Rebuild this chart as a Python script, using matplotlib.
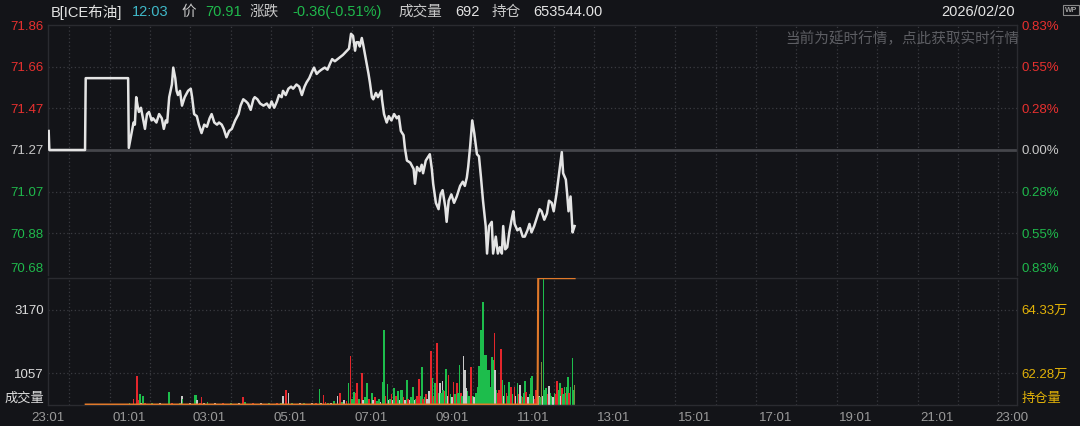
import matplotlib.pyplot as plt
import numpy as np

plt.rcParams['font.family'] = ['Liberation Sans', 'Noto Sans CJK SC']

W, H = 1080, 426
BG = '#131418'
GRID = '#3a3b40'
EDGE = '#2a2b30'
RED = '#e8302f'
GREEN = '#1fb94c'
WHITE = '#e4e4e4'
GOLD = '#e2b208'
GRAYTXT = '#c8c8c8'

# ---- data ----
prev_close = 71.27
price_labels = ['71.86', '71.66', '71.47', '71.27', '71.07', '70.88', '70.68']
pct_labels = ['0.83%', '0.55%', '0.28%', '0.00%', '0.28%', '0.55%', '0.83%']
time_labels = ['23:01', '01:01', '03:01', '05:01', '07:01', '09:01', '11:01',
               '13:01', '15:01', '17:01', '19:01', '21:01', '23:00']
vol_ticks = [1057, 3170]
vol_top = 4227
oi_ticks = [62.28, 64.33]
oi_lo, oi_hi = 61.255, 65.355

# minutes after 23:01
price_min = [1, 2, 55, 56, 119, 120, 127, 129, 131, 133, 135, 138, 141, 144, 147,
             150, 154, 156, 161, 165, 169, 172, 175, 177, 180, 184, 186, 189, 191,
             193, 196, 199, 203, 208, 212, 214, 217, 221, 224, 228, 232, 236, 240,
             243, 247, 251, 254, 258, 261, 265, 269, 273, 278, 283, 286, 290, 294,
             297, 301, 305, 307, 311, 315, 320, 325, 329, 332, 336, 340, 343, 347,
             349, 353, 357, 361, 364, 369, 373, 377, 381, 384, 388, 392, 395, 399,
             402, 406, 411, 415, 419, 422, 426, 430, 434, 438, 444, 447, 450, 453,
             456, 458, 461, 463, 466, 468, 472, 476, 478, 481, 483, 487, 490, 495,
             496, 499, 503, 506, 510, 514, 518, 521, 524, 528, 530, 533, 538, 543,
             545, 548, 552, 555, 557, 561, 565, 567, 570, 572, 576, 580, 583, 586,
             590, 592, 595, 599, 603, 607, 612, 616, 619, 622, 624, 627, 630, 633,
             637, 640, 643, 646, 650, 652, 655, 659, 661, 665, 668, 671, 674, 676,
             679, 682, 685, 689, 691, 693, 697, 701, 705, 708, 712, 715, 718, 722,
             726, 730, 733, 737, 741, 744, 748, 751, 755, 759, 763, 765, 769, 771,
             773, 776, 779, 782]
price_val = [71.36, 71.27, 71.27, 71.61, 71.61, 71.28, 71.40, 71.39, 71.52, 71.48, 71.45, 71.47, 71.42, 71.37, 71.44,
             71.45, 71.41, 71.42, 71.40, 71.44, 71.42, 71.37, 71.41, 71.40, 71.52, 71.58, 71.66, 71.61, 71.55,
             71.53, 71.55, 71.48, 71.52, 71.55, 71.56, 71.52, 71.44, 71.43, 71.39, 71.35, 71.39, 71.38, 71.42,
             71.44, 71.40, 71.39, 71.40, 71.39, 71.37, 71.33, 71.36, 71.37, 71.41, 71.44, 71.48, 71.51, 71.50,
             71.49, 71.46, 71.51, 71.52, 71.51, 71.49, 71.48, 71.49, 71.47, 71.50, 71.47, 71.50, 71.53, 71.52,
             71.55, 71.53, 71.56, 71.57, 71.56, 71.58, 71.57, 71.53, 71.57, 71.59, 71.61, 71.64, 71.66, 71.63,
             71.64, 71.65, 71.66, 71.65, 71.68, 71.70, 71.69, 71.70, 71.71, 71.72, 71.74, 71.75, 71.82, 71.81,
             71.74, 71.78, 71.78, 71.76, 71.80, 71.77, 71.70, 71.63, 71.59, 71.52, 71.51, 71.54, 71.52, 71.55,
             71.51, 71.44, 71.40, 71.43, 71.41, 71.44, 71.42, 71.43, 71.36, 71.34, 71.28, 71.22, 71.21, 71.18,
             71.11, 71.19, 71.17, 71.20, 71.16, 71.22, 71.24, 71.25, 71.18, 71.11, 71.02, 70.99, 71.06, 71.08,
             71.00, 70.93, 71.03, 71.06, 71.02, 71.05, 71.10, 71.12, 71.10, 71.14, 71.19, 71.29, 71.41, 71.35,
             71.25, 71.24, 71.14, 71.03, 70.91, 70.78, 70.91, 70.93, 70.78, 70.86, 70.78, 70.81, 70.78, 70.91,
             70.80, 70.81, 70.88, 70.95, 70.98, 70.92, 70.89, 70.90, 70.86, 70.86, 70.89, 70.92, 70.88, 70.91,
             70.95, 70.99, 70.98, 70.94, 70.97, 71.03, 71.02, 70.98, 71.06, 71.16, 71.26, 71.16, 71.13, 71.06,
             70.98, 71.05, 70.88, 70.91]

vol_min = [121, 124, 127, 132, 134, 137, 138, 141, 144, 149, 154, 160, 166, 172, 180, 184,
           190, 196, 199, 200, 205, 211, 218, 220, 221, 226, 228, 232, 237, 242, 248, 254,
           260, 266, 272, 278, 284, 290, 293, 298, 304, 310, 316, 322, 328, 334, 340, 346,
           349, 353, 357, 362, 368, 374, 380, 386, 392, 398, 403, 405, 409, 412, 416, 420,
           425, 430, 434, 437, 440, 443, 446, 449, 451, 454, 457, 459, 462, 466, 468, 471,
           474, 477, 481, 483, 486, 489, 492, 494, 497, 499, 501, 504, 506, 508, 510, 512,
           514, 517, 520, 522, 524, 526, 528, 530, 533, 535, 537, 539, 542, 544, 546, 548,
           551, 553, 555, 557, 559, 561, 563, 565, 566, 569, 571, 573, 575, 577, 578, 580,
           582, 584, 586, 587, 589, 591, 593, 595, 598, 600, 602, 604, 607, 609, 611, 613,
           615, 617, 619, 621, 623, 625, 628, 629, 631, 633, 636, 638, 640, 643, 646, 648,
           650, 652, 654, 655, 657, 659, 661, 663, 664, 666, 668, 670, 673, 675, 677, 678,
           681, 683, 685, 687, 688, 690, 693, 694, 697, 699, 701, 703, 705, 707, 708, 710,
           713, 715, 717, 719, 721, 723, 725, 727, 729, 731, 733, 735, 736, 738, 740, 742,
           744, 746, 748, 750, 752, 754, 756, 758, 760, 762, 763, 765, 767, 769, 771, 772,
           774, 776, 779, 780, 782]
vol_val = [70, 40, 200, 970, 160, 375, 60, 300, 50, 40, 60, 40, 50, 40, 420, 50,
           40, 50, 290, 200, 40, 50, 333, 333, 150, 60, 265, 50, 100, 40, 50, 40,
           60, 40, 50, 40, 50, 265, 100, 40, 50, 40, 60, 40, 50, 40, 50, 60,
           300, 500, 390, 50, 40, 60, 50, 40, 60, 50, 530, 60, 333, 100, 60, 80,
           120, 310, 390, 100, 150, 130, 720, 1630, 200, 420, 400, 720, 200, 1055, 150, 250,
           740, 200, 390, 150, 280, 120, 200, 100, 750, 2500, 300, 700, 150, 200, 365, 150,
           555, 300, 465, 150, 500, 500, 250, 150, 820, 200, 150, 250, 590, 150, 200, 300,
           865, 300, 1275, 200, 250, 350, 200, 400, 450, 1800, 890, 300, 720, 350, 2055, 400,
           720, 400, 800, 500, 450, 1200, 300, 1000, 350, 250, 775, 350, 740, 400, 1330, 400,
           300, 1630, 1165, 550, 450, 300, 1275, 450, 300, 250, 400, 600, 1300, 2500, 3420, 1665,
           1665, 1165, 800, 1150, 600, 1610, 1500, 2390, 1165, 500, 400, 500, 1865, 830, 300, 650,
           400, 300, 755, 300, 600, 350, 600, 300, 740, 350, 650, 300, 250, 400, 800, 420,
           250, 350, 910, 950, 300, 200, 500, 250, 300, 250, 1445, 300, 4227, 500, 550, 350,
           630, 400, 300, 250, 400, 350, 800, 500, 720, 300, 550, 350, 600, 400, 600, 945,
           400, 600, 1555, 500, 665]
# r = up, g = down, w = flat, d = mixed
vol_dir = list("gwrrrgwgrwgrwggr"
               "wgwgrwggwrrwgrwg"
               "rwgrwrgwrgwrgwrg"
               "wrwgrwgrwrgwrrgw"
               "gwrgwrgrggrrgrwg"
               "grgwrggwggrgwgrw"
               "grgwggrwgrwggwgr"
               "rggrgrwgwrgrgrrg"
               "wgwgrgwrgwrgrggr"
               "gwwwggrrgwgggggg"
               "ggrggggrwgrrrgwg"
               "rggwrgrwgrwgrggr"
               "wgggwrrgwgdwgggr"
               "wggwgrrggwrggrgg"
               "rgggd")

# open interest (万手)
oi_min = [56, 727, 728, 782]
oi_val = [61.27, 61.27, 65.35, 65.35]

dir_color = {'r': '#e3262c', 'g': '#1dbd4c', 'w': '#c9c9c9', 'd': '#7d8a3a'}

# ---- layout ----
def fx(px):
    return px / W

def fy(py):
    return 1 - py / H

fig = plt.figure(figsize=(W / 100, H / 100), dpi=100, facecolor=BG)
ax_p = fig.add_axes([fx(48), fy(275), (1017 - 48) / W, (275 - 25) / H])
ax_v = fig.add_axes([fx(48), fy(405), (1017 - 48) / W, (405 - 278) / H])

lo, hi = prev_close * (1 - 0.0083), prev_close * (1 + 0.0083)
levels = np.linspace(hi, lo, 7)
grid_x = np.arange(31.5, 1439, 60)
dots = (0, (1, 2))

for ax in (ax_p, ax_v):
    ax.set_facecolor(BG)
    ax.set_xlim(0, 1439)
    for s in ax.spines.values():
        s.set_color(EDGE)
        s.set_linewidth(1)
    for gx in grid_x:
        ax.axvline(gx, color=GRID, lw=0.9, ls=dots, zorder=0)
ax_p.spines['bottom'].set_visible(False)

# price panel
ax_p.set_ylim(lo, hi)
for lv in levels[1:-1]:
    if abs(lv - prev_close) > 1e-6:
        ax_p.axhline(lv, color=GRID, lw=0.9, ls=dots, zorder=0)
ax_p.axhline(prev_close, color='#45464b', lw=2, zorder=1)
ax_p.plot(price_min, price_val, color=WHITE, lw=1.8, zorder=3)
ax_p.set_xticks([])
ax_p.set_yticks(levels, price_labels)
ax_p.tick_params(axis='y', length=0, pad=3, labelsize=9.5)
lab_colors = [RED] * 3 + [GRAYTXT] + [GREEN] * 3
for t, c in zip(ax_p.get_yticklabels(), lab_colors):
    t.set_color(c)
ax_p.get_yticklabels()[-1].set_va('bottom')

ax_pr = ax_p.twinx()
ax_pr.set_ylim(lo, hi)
ax_pr.set_yticks(levels, pct_labels)
ax_pr.tick_params(axis='y', length=0, pad=3, labelsize=9.5)
for t, c in zip(ax_pr.get_yticklabels(), lab_colors):
    t.set_color(c)
ax_pr.get_yticklabels()[-1].set_va('bottom')
for s in ax_pr.spines.values():
    s.set_visible(False)

# volume panel
ax_v.set_ylim(0, vol_top)
for v in vol_ticks:
    ax_v.axhline(v, color=GRID, lw=0.9, ls=dots, zorder=0)
ax_v.bar(vol_min, vol_val, width=2.4, color=[dir_color[d] for d in vol_dir],
         linewidth=0, zorder=2)
ax_v.set_yticks([0] + vol_ticks, ['成交量'] + [str(v) for v in vol_ticks])
ax_v.tick_params(axis='y', length=0, pad=3, labelsize=9.5, labelcolor='#dcdcdc')
ax_v.get_yticklabels()[0].set_va('bottom')
tick_pos = [0, 120, 240, 360, 480, 600, 720, 840, 960, 1080, 1200, 1320, 1432]
ax_v.set_xticks(tick_pos, time_labels)
ax_v.tick_params(axis='x', length=0, pad=5, labelsize=9.5, labelcolor='#9a9a9a')

ax_o = ax_v.twinx()
ax_o.set_ylim(oi_lo, oi_hi)
ax_o.plot(oi_min, oi_val, color='#e0792a', lw=1.5, zorder=4)
ax_o.set_yticks([oi_lo] + oi_ticks, ['持仓量'] + ['%.2f万' % v for v in oi_ticks])
ax_o.tick_params(axis='y', length=0, pad=3, labelsize=9.5, labelcolor=GOLD)
ax_o.get_yticklabels()[0].set_va('bottom')
for s in ax_o.spines.values():
    s.set_visible(False)

# header line
header = [('B[ICE布油]', 51, WHITE), ('12:03', 132, '#3fb8c8'), ('价', 181, GRAYTXT),
          ('70.91', 205, GREEN), ('涨跌', 250, GRAYTXT), ('-0.36(-0.51%)', 292, GREEN),
          ('成交量', 398, GRAYTXT), ('692', 455, WHITE), ('持仓', 492, GRAYTXT),
          ('653544.00', 533, WHITE)]
for txt, x, c in header:
    fig.text(fx(x), fy(12), txt, color=c, fontsize=10.5, va='center', ha='left')
fig.text(fx(1015), fy(12), '2026/02/20', color=WHITE, fontsize=10.5, va='center', ha='right')
fig.text(fx(1019), fy(39), '当前为延时行情，点此获取实时行情', color='#5d5e63',
         fontsize=10.5, va='center', ha='right')
fig.text(fx(1071), fy(10), 'WP', color='#a0a0a0', fontsize=5.5, va='center', ha='center',
         fontweight='bold',
         bbox=dict(facecolor='none', edgecolor='#8a8a8a', boxstyle='square,pad=0.2', lw=0.8))

fig.savefig('out.png', dpi=100, facecolor=BG)
